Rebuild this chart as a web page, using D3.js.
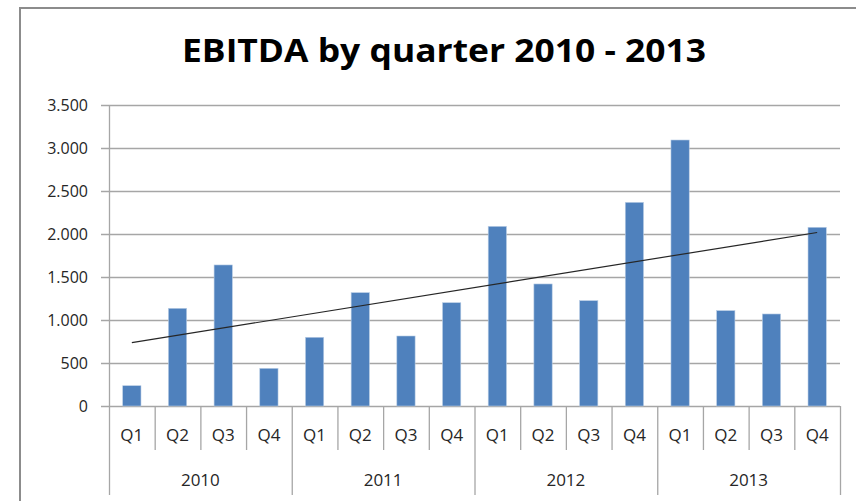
<!DOCTYPE html>
<html>
<head>
<meta charset="utf-8">
<script src="https://cdn.jsdelivr.net/npm/d3@7"></script>
<style>
html,body{margin:0;padding:0;background:#fff;}
svg{display:block;}
text{font-family:"Open Sans","Noto Sans",sans-serif;}
</style>
</head>
<body>
<svg id="chart" width="856" height="501"></svg>
<script>
const years = ["2010", "2011", "2012", "2013"];
const quarters = ["Q1", "Q2", "Q3", "Q4"];
const values = [236, 1136, 1640, 438, 799, 1318, 814, 1201, 2089, 1419, 1225, 2368, 3093, 1109, 1070, 2078];
const yTicks = [0, 500, 1000, 1500, 2000, 2500, 3000, 3500];
const title = "EBITDA by quarter 2010 - 2013";

const svg = d3.select("#chart");
const plotL = 109, plotR = 840, plotT = 105, plotB = 406;

// chart border
svg.append("rect").attr("x", 20).attr("y", 8).attr("width", 860).attr("height", 520)
  .attr("fill", "#fff").attr("stroke", "#8c8c8c").attr("stroke-width", 2);

const cats = values.map((v, i) => i);
const x = d3.scaleBand().domain(cats).range([plotL, plotR]);
const y = d3.scaleLinear().domain([0, 3500]).range([plotB, plotT]);

// gridlines
const fmt = v => v === 0 ? "0" : d3.format(",")(v).replace(/,/g, ".");
svg.append("g").selectAll("line").data(yTicks).join("line")
  .attr("x1", plotL - 8).attr("x2", plotR)
  .attr("y1", d => y(d) + 0.5).attr("y2", d => y(d) + 0.5)
  .attr("stroke", "#a6a6a6").attr("stroke-width", 1.3);

// y axis line
svg.append("line").attr("x1", plotL + 0.5).attr("x2", plotL + 0.5)
  .attr("y1", plotT).attr("y2", plotB).attr("stroke", "#a6a6a6").attr("stroke-width", 1.3);

// y labels
svg.append("g").selectAll("text").data(yTicks).join("text")
  .attr("x", 88).attr("y", d => y(d)).attr("dy", "0.36em")
  .attr("text-anchor", "end").attr("font-size", 16).attr("fill", "#262626")
  .text(fmt);

// bars
const bw = x.bandwidth() * 0.4;
svg.append("g").selectAll("rect").data(values).join("rect")
  .attr("x", (d, i) => x(i) + (x.bandwidth() - bw) / 2)
  .attr("width", bw)
  .attr("y", d => y(d))
  .attr("height", d => y(0) - y(d))
  .attr("fill", "#4f81bd")
  .attr("stroke", "#b9cde5").attr("stroke-width", 0.6);

// trendline (linear regression)
const n = values.length;
const xm = (n - 1) / 2;
const ym = d3.mean(values);
let sxy = 0, sxx = 0;
values.forEach((v, i) => { sxy += (i - xm) * (v - ym); sxx += (i - xm) * (i - xm); });
const slope = sxy / sxx;
const icpt = ym - slope * xm;
const trend = [0, n - 1].map(i => [x(i) + x.bandwidth() / 2, y(icpt + slope * i)]);
svg.append("path").attr("d", d3.line()(trend))
  .attr("stroke", "#262626").attr("stroke-width", 1.2).attr("fill", "none");

// x axis separators
const bounds = d3.range(n + 1);
svg.append("g").selectAll("line").data(bounds).join("line")
  .attr("x1", i => (i < n ? x(i) : plotR) + 0.5)
  .attr("x2", i => (i < n ? x(i) : plotR) + 0.5)
  .attr("y1", plotB)
  .attr("y2", i => i % 4 === 0 ? 495 : 450)
  .attr("stroke", "#a6a6a6").attr("stroke-width", 1.3);

// quarter labels
svg.append("g").selectAll("text").data(cats).join("text")
  .attr("x", i => x(i) + x.bandwidth() / 2)
  .attr("y", 435).attr("dy", "0.36em")
  .attr("text-anchor", "middle").attr("font-size", 17).attr("fill", "#262626")
  .text(i => quarters[i % 4]);

// year labels
svg.append("g").selectAll("text").data(years).join("text")
  .attr("x", (d, j) => (x(j * 4) + (j * 4 + 4 < n ? x(j * 4 + 4) : plotR)) / 2)
  .attr("y", 480).attr("dy", "0.36em")
  .attr("text-anchor", "middle").attr("font-size", 17).attr("fill", "#262626")
  .text(d => d);

// title
svg.append("text").attr("x", 444).attr("y", 62)
  .attr("text-anchor", "middle").attr("font-size", 33).attr("font-weight", "bold")
  .attr("fill", "#000")
  .attr("textLength", 524).attr("lengthAdjust", "spacingAndGlyphs")
  .text(title);
</script>
</body>
</html>
